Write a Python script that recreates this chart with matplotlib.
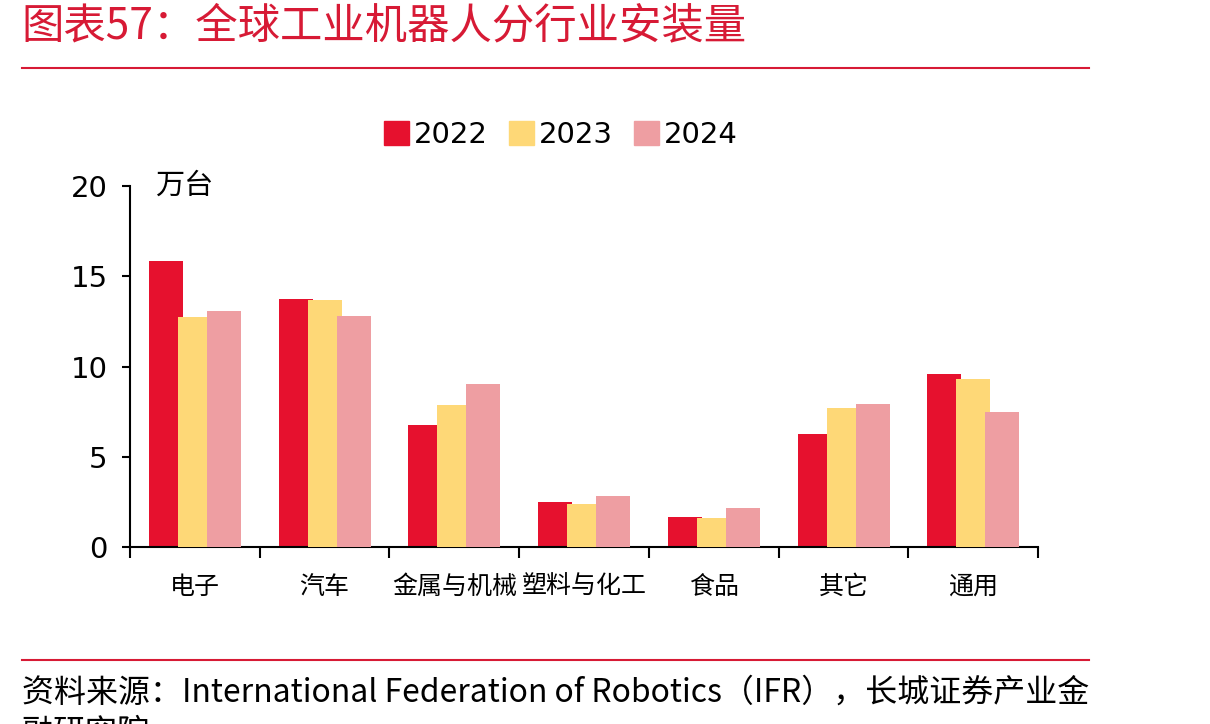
import numpy as np
import matplotlib
matplotlib.use('Agg')
import matplotlib.pyplot as plt
from matplotlib.lines import Line2D

plt.rcParams['font.family'] = ['DejaVu Sans', 'Noto Sans CJK SC']

categories = ['电子', '汽车', '金属与机械', '塑料与化工', '食品', '其它', '通用']
years = ['2022', '2023', '2024']
v2022 = [15.85, 13.74, 6.76, 2.49, 1.66, 6.26, 9.58]
v2023 = [12.74, 13.68, 7.87, 2.38, 1.60, 7.70, 9.30]
v2024 = [13.07, 12.80, 9.03, 2.83, 2.16, 7.92, 7.48]
colors = ['#E6112E', '#FED877', '#EE9EA2']

fig = plt.figure(figsize=(12.1, 7.24), dpi=100)
ax = fig.add_axes([0.1074, 0.2445, 0.7506, 0.4985])

x = np.arange(len(categories))
offset = 0.224
width = 0.262
for i, (vals, c, yr) in enumerate(zip([v2022, v2023, v2024], colors, years)):
    ax.bar(x + (i - 1) * offset, vals, width=width, color=c, label=yr,
           zorder=2 + i)

ax.set_xlim(-0.5, len(categories) - 0.5)
ax.set_ylim(0, 20)
ax.set_yticks([0, 5, 10, 15, 20])
ax.tick_params(axis='y', labelsize=21, direction='out', length=6, width=1.5, pad=10)
ax.set_xticks(np.arange(len(categories) + 1) - 0.5, minor=False)
ax.set_xticklabels([])
ax.tick_params(axis='x', direction='out', length=8, width=1.5)
ax.set_xticks(x, minor=True)
ax.set_xticklabels(categories, minor=True, fontsize=18)
ax.tick_params(axis='x', which='minor', length=0, pad=20)
for s in ['top', 'right']:
    ax.spines[s].set_visible(False)
for s in ['left', 'bottom']:
    ax.spines[s].set_linewidth(1.5)

ax.text(-0.31, 20.0, '万台', fontsize=21, va='center', ha='left',
        family=['Noto Sans CJK SC'])

handles = [plt.Rectangle((0, 0), 1, 1, color=c) for c in colors]
fig.legend(handles, years, loc='center', bbox_to_anchor=(0.4635, 0.8135),
           ncol=3, frameon=False, fontsize=21, handlelength=0.85,
           handleheight=0.85, handletextpad=0.15, columnspacing=0.75)

red = '#D71A35'
fig.text(0.018, 0.963, '图表57：全球工业机器人分行业安装量', fontsize=30.5, color=red,
         style='italic', va='center', ha='left',
         family=['Noto Sans CJK SC', 'DejaVu Sans'])
fig.add_artist(Line2D([0.018, 0.9], [0.906, 0.906], color=red, lw=1.5))
fig.add_artist(Line2D([0.018, 0.9], [0.088, 0.088], color=red, lw=1.5))
fig.text(0.018, 0.043, '资料来源：International Federation of Robotics（IFR），长城证券产业金',
         fontsize=23, style='italic', va='center', ha='left',
         family=['Noto Sans CJK SC', 'DejaVu Sans'])
fig.text(0.018, -0.012, '融研究院', fontsize=23, style='italic', va='center', ha='left',
         family=['Noto Sans CJK SC', 'DejaVu Sans'])

fig.savefig('out.png', dpi=100)
